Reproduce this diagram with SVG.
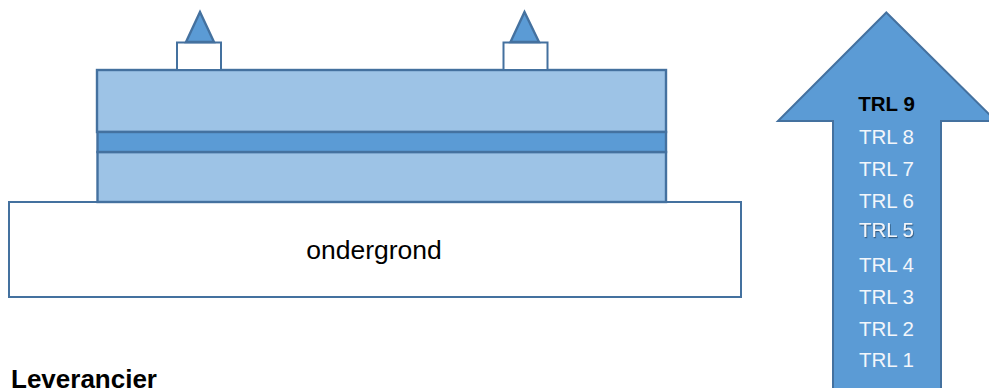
<svg xmlns="http://www.w3.org/2000/svg" width="989" height="388" viewBox="0 0 989 388">
<style>
.s{stroke:#44719f;stroke-width:2.400;stroke-linejoin:miter}
.n{stroke-width:2}
.l{fill:#9dc3e6}.m{fill:#5b9bd5}.w{fill:#fff}
text{font-family:"Liberation Sans",Arial,sans-serif}
.t{font-size:20.500px;fill:#f2f6fb;text-anchor:middle}
</style>
<defs><filter id="shadow" x="-20%" y="-20%" width="140%" height="150%"><feDropShadow dx="0.800" dy="1.200" stdDeviation="0.500" flood-color="#2f5378" flood-opacity="0.900"/></filter></defs>
<g id="base"><rect class="s n w" x="9" y="202" width="732" height="95"/><text x="374" y="259" font-size="26.500" text-anchor="middle" fill="#000">ondergrond</text></g>
<g id="layer-top"><rect class="s l" x="97" y="70" width="569" height="62"/></g>
<g id="layer-bottom"><rect class="s l" x="97.500" y="152" width="568.500" height="50"/></g>
<g id="layer-middle"><rect class="s m" x="97.500" y="132" width="568.500" height="20"/></g>
<g id="sensor-1"><rect class="s n w" x="177" y="42.500" width="44" height="27.500"/><polygon class="s m" points="200,12 186,42 214,42"/></g>
<g id="sensor-2"><rect class="s n w" x="503.500" y="42.500" width="44" height="27.500"/><polygon class="s m" points="524.500,12 510.500,42 539,42"/></g>
<g id="trl-arrow"><polygon class="s n m" points="886.300,12.500 778,121 833,121 833,400 941,400 941,121 996,121"/>
<text x="886.500" y="111" font-size="20.500" font-weight="bold" text-anchor="middle" fill="#000">TRL 9</text>
<text class="t" x="886.500" y="143.500">TRL 8</text>
<text class="t" x="886.500" y="175.500">TRL 7</text>
<text class="t" x="886.500" y="207.500">TRL 6</text>
<text class="t" x="886.500" y="236.500" filter="url(#shadow)">TRL 5</text>
<text class="t" x="886.500" y="271.500">TRL 4</text>
<text class="t" x="886.500" y="303.500">TRL 3</text>
<text class="t" x="886.500" y="335.500">TRL 2</text>
<text class="t" x="886.500" y="366.500">TRL 1</text></g>
<text x="11" y="388" font-size="26" font-weight="bold" fill="#000">Leverancier</text>
</svg>
